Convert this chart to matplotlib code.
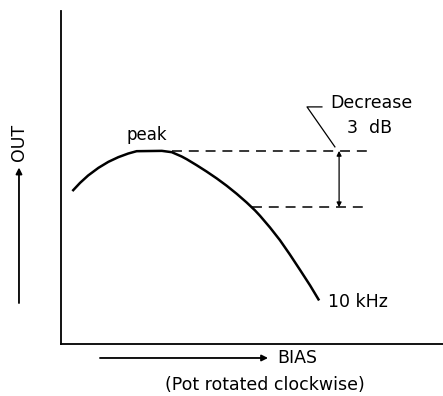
import numpy as np
import matplotlib
matplotlib.use("Agg")
import matplotlib.pyplot as plt

# Output vs. bias at 10 kHz (arbitrary units)
bias = [0.32, 0.50, 0.71, 0.98, 1.24, 1.50, 1.76, 1.98, 2.64, 2.90, 3.16,
        3.29, 3.55, 3.81, 4.08, 4.34, 4.60, 4.86, 5.08, 5.21, 5.47, 5.73,
        5.99, 6.26, 6.52, 6.74]
out = [4.62, 4.84, 5.06, 5.29, 5.47, 5.61, 5.72, 5.79, 5.80, 5.76, 5.63,
       5.55, 5.37, 5.18, 4.97, 4.75, 4.51, 4.25, 4.01, 3.85, 3.50, 3.12,
       2.69, 2.22, 1.76, 1.34]

peak_out = 5.80
peak_bias = 2.90
drop_db = 3
drop_out = peak_out * 10 ** (-drop_db / 20)
drop_bias = 5.00
marker_x = 7.28
dash_end = 8.01

plt.rcParams['font.family'] = ['DejaVu Sans']

fig = plt.figure(figsize=(4.43, 3.96), dpi=100)
ax = fig.add_axes([61 / 443, 52 / 396, 382 / 443, 333 / 396])
ax.set_xlim(0, 10)
ax.set_ylim(0, 10)
for s in ('top', 'right'):
    ax.spines[s].set_visible(False)
for s in ('left', 'bottom'):
    ax.spines[s].set_linewidth(1.3)
ax.set_xticks([])
ax.set_yticks([])

# response curve
ax.plot(bias, out, color='black', lw=1.8, solid_joinstyle='round')

# reference levels
ax.plot([peak_bias, dash_end], [peak_out, peak_out], color='black', lw=1.1,
        dashes=(6.5, 4.5))
ax.plot([drop_bias, dash_end], [drop_out, drop_out], color='black', lw=1.1,
        dashes=(6.5, 4.5))
ax.annotate('', xy=(marker_x, peak_out), xytext=(marker_x, drop_out),
            arrowprops=dict(arrowstyle='<|-|>', color='black', lw=0.9,
                            mutation_scale=7, shrinkA=0, shrinkB=0))

# leader to the 3 dB label
ax.plot([7.17, 6.44, 6.83], [5.92, 7.12, 7.12], color='black', lw=0.9,
        clip_on=False)
ax.text(7.04, 7.24, 'Decrease', fontsize=12.5, ha='left', va='center')
ax.text(8.09, 6.49, f'{drop_db}  dB', fontsize=12.5, ha='center', va='center')

ax.text(2.25, 6.28, 'peak', fontsize=12, ha='center', va='center')
ax.text(6.99, 1.26, '10 kHz', fontsize=12.5, ha='left', va='center')

# axis direction arrows and labels
ax.annotate('', xy=(-1.10, 5.30), xytext=(-1.10, 1.23),
            xycoords='data', annotation_clip=False,
            arrowprops=dict(arrowstyle='-|>', color='black', lw=1.3,
                            mutation_scale=9, shrinkA=0, shrinkB=0))
ax.text(-1.10, 6.05, 'OUT', fontsize=12.5, rotation=90, ha='center',
        va='center', clip_on=False)

ax.annotate('', xy=(5.42, -0.42), xytext=(1.02, -0.42),
            xycoords='data', annotation_clip=False,
            arrowprops=dict(arrowstyle='-|>', color='black', lw=1.3,
                            mutation_scale=9, shrinkA=0, shrinkB=0))
ax.text(5.65, -0.42, 'BIAS', fontsize=12.5, ha='left', va='center',
        clip_on=False)
ax.text(5.34, -1.23, '(Pot rotated clockwise)', fontsize=12.5, ha='center',
        va='center', clip_on=False)

fig.savefig('out.png', dpi=100)
